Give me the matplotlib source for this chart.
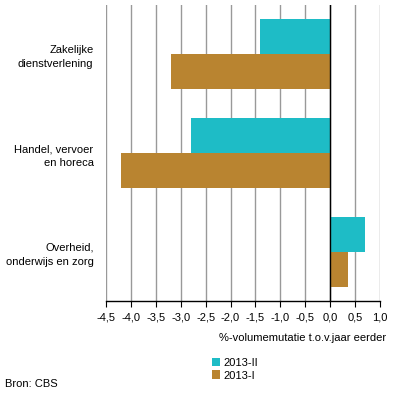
import numpy as np
import matplotlib.pyplot as plt

plt.rcParams['font.family'] = ['Liberation Sans', 'DejaVu Sans']

# --- Data ---
categories = ['Zakelijke\ndienstverlening', 'Handel, vervoer\nen horeca', 'Overheid,\nonderwijs en zorg']
q2_2013 = [-1.4, -2.8, 0.7]     # 2013-II
q1_2013 = [-3.2, -4.2, 0.35]    # 2013-I
ticks = np.arange(-4.5, 1.01, 0.5)
tick_labels = [f"{t:.1f}".replace('.', ',') for t in ticks]

teal = '#1EBCC6'
brown = '#B98430'

fig = plt.figure(figsize=(3.96, 4.01), dpi=100)
ax = fig.add_axes([106/396, 1 - 301/401, 274/396, 296/401])

y = np.arange(len(categories))
h = 0.355
ax.barh(y - h/2, q2_2013, height=h, color=teal, label='2013-II', zorder=3)
ax.barh(y + h/2, q1_2013, height=h, color=brown, label='2013-I', zorder=3)

ax.set_xlim(-4.5, 1.0)
ax.set_ylim(2.5, -0.5)
ax.set_xticks(ticks)
ax.set_xticklabels(tick_labels, fontsize=8)
for t in ticks:
    ax.axvline(t, color='#999999', lw=1, zorder=1)
ax.axvline(0, color='black', lw=1, zorder=4)

ax.set_yticks(y)
ax.set_yticklabels(categories, fontsize=8, linespacing=1.5, multialignment='right')
ax.tick_params(axis='y', length=0, pad=9)
ax.tick_params(axis='x', length=4, direction='out', color='black', pad=4)

for s in ['top', 'right', 'left']:
    ax.spines[s].set_visible(False)
ax.spines['bottom'].set_color('black')
ax.spines['bottom'].set_linewidth(1)

fig.text(386/396, 1 - 338/401, '%-volumemutatie t.o.v.jaar eerder', fontsize=8,
         ha='right', va='center')

handles, labels = ax.get_legend_handles_labels()
fig.legend(handles, labels, loc='upper left', bbox_to_anchor=(206/396, 1 - 352/401),
           frameon=False, fontsize=8, handlelength=0.8, handleheight=0.8,
           handletextpad=0.3, labelspacing=0.25, borderpad=0)

fig.text(5/396, 1 - 384/401, 'Bron: CBS', fontsize=8, ha='left', va='center')

fig.savefig('out.png', dpi=100)
